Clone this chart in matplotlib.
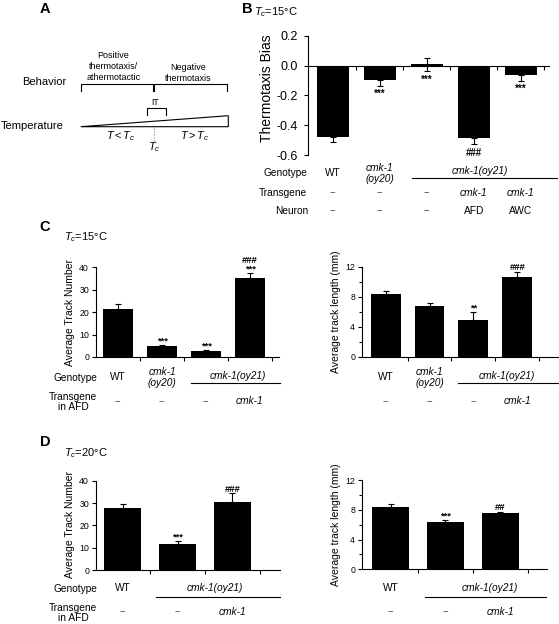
import matplotlib
matplotlib.use('Agg')
import numpy as np
import matplotlib.pyplot as plt
from matplotlib import transforms
from matplotlib.patches import Polygon
from matplotlib.ticker import FixedLocator

plt.rcParams['font.family'] = ['Liberation Sans', 'DejaVu Sans']
plt.rcParams['mathtext.fontset'] = 'custom'
plt.rcParams['mathtext.rm'] = 'Liberation Sans'
plt.rcParams['mathtext.it'] = 'Liberation Sans:italic'
plt.rcParams['mathtext.bf'] = 'Liberation Sans:bold'
plt.rcParams['axes.unicode_minus'] = False

# ---------------- data ----------------
# Panel B (Tc = 15 C): thermotaxis bias
b_genotype = ['WT', 'cmk-1\n(oy20)', '', '', '']
b_bias = [-0.48, -0.095, 0.008, -0.483, -0.062]
b_err_low = [0.03, 0.04, 0.048, 0.044, 0.04]
b_err_high = [0.0, 0.0, 0.04, 0.0, 0.0]
b_marks = ['', '***', '***', '###', '***']
b_transgene = ['--', '--', '--', 'cmk-1', 'cmk-1']
b_neuron = ['--', '--', '--', 'AFD', 'AWC']
b_yticks = [0.2, 0.0, -0.2, -0.4, -0.6]
b_yticklabels = ['0.2', '0.0', '-0.2', '-0.4', '-0.6']

# Panel C (Tc = 15 C)
c_genotype = ['WT', 'cmk-1\n(oy20)', '', '']
c_transgene = ['--', '--', '--', 'cmk-1']
c_tracks = [21.5, 4.7, 2.5, 35.4]
c_tracks_err = [2.0, 0.7, 0.5, 2.0]
c_tracks_marks = ['', '***', '***', '###\n***']
c_length = [8.36, 6.76, 4.93, 10.7]
c_length_err = [0.4, 0.48, 1.03, 0.7]
c_length_marks = ['', '', '**', '###']

# Panel D (Tc = 20 C)
d_genotype = ['WT', '', '']
d_transgene = ['--', '--', 'cmk-1']
d_tracks = [27.9, 11.66, 30.3]
d_tracks_err = [1.6, 1.2, 4.0]
d_tracks_marks = ['', '***', '###']
d_length = [8.32, 6.39, 7.52]
d_length_err = [0.4, 0.22, 0.22]
d_length_marks = ['', '***', '##']

track_ticks = [0, 10, 20, 30, 40]
length_ticks = [0, 4, 8, 12]
length_minor = [2, 6, 10]

# ---------------- layout helpers ----------------
W, H = 559, 624
fig = plt.figure(figsize=(W / 100, H / 100), dpi=100)
fig.patch.set_facecolor('white')

ov = fig.add_axes([0, 0, 1, 1], zorder=10)
ov.set_xlim(0, W)
ov.set_ylim(H, 0)
ov.axis('off')

TABLE_FS = 7.3
LW = 0.8


def add_ax(l, t, r, b):
    ax = fig.add_axes([l / W, 1 - b / H, (r - l) / W, (b - t) / H])
    ax.patch.set_alpha(0)
    for s in ('top', 'right'):
        ax.spines[s].set_visible(False)
    for s in ('left', 'bottom'):
        ax.spines[s].set_linewidth(LW)
    return ax


def draw_bars(ax, vals, err_low, err_high, xlim, ylim, tick_fs):
    x = np.arange(len(vals))
    ax.bar(x, vals, width=0.68, color='black', zorder=2)
    ax.errorbar(x, vals, yerr=[err_low, err_high], fmt='none', ecolor='black',
                elinewidth=LW, capsize=2, capthick=LW, zorder=3)
    ax.set_xlim(*xlim)
    ax.set_ylim(*ylim)
    ax.set_xticks(x + 0.5)
    ax.tick_params(axis='x', length=3, width=LW, labelbottom=False, direction='out')
    ax.tick_params(axis='y', length=3, width=LW, labelsize=tick_fs, pad=2, direction='out')
    return x


def marks_above(ax, vals, errs, marks, fs=6.8):
    for i, (v, e, m) in enumerate(zip(vals, errs, marks)):
        if not m:
            continue
        for k, line in enumerate(reversed(m.split('\n'))):
            ax.annotate(line, xy=(i, v + e), xytext=(0, 1.2 + k * 6.2),
                        textcoords='offset points', ha='center', va='baseline',
                        fontsize=fs, fontweight='bold', annotation_clip=False)


def col_text(ax, x, ypx, s, italic=False, fs=TABLE_FS, **kw):
    tr = transforms.blended_transform_factory(ax.transData, ov.transData)
    if s == '--':
        ov.text(x, ypx, s, transform=tr, ha='center', va='center', fontsize=6.6,
                family='DejaVu Sans', color='#444444', **kw)
        return
    ov.text(x, ypx, s, transform=tr, ha='center', va='center', fontsize=fs,
            style='italic' if italic else 'normal', color='black', **kw)


def group_line(ax, x0, x1, ypx):
    tr = transforms.blended_transform_factory(ax.transData, ov.transData)
    ov.plot([x0, x1], [ypx, ypx], transform=tr, color='black', lw=LW, clip_on=False)


# ---------------- Panel A (schematic) ----------------
ov.text(45, 9, 'A', fontsize=10.5, fontweight='bold', ha='center', va='center')
ov.text(22, 82, 'Behavior', fontsize=8, ha='left', va='center')
ov.text(1, 126, 'Temperature', fontsize=8, ha='left', va='center')


def bracket(x0, x1, ytop, ybot):
    ov.plot([x0, x0, x1, x1], [ybot, ytop, ytop, ybot], color='black', lw=LW,
            solid_joinstyle='miter')


bracket(80.7, 152.7, 84, 91)
bracket(154.3, 226.7, 84, 91)
bracket(146.7, 165.7, 108.3, 115)
ov.text(113.3, 66.3, 'Positive\nthermotaxis/\nathermotactic', fontsize=6.5,
        ha='center', va='center', linespacing=1.25)
ov.text(188.5, 73, 'Negative\nthermotaxis', fontsize=6.5, ha='center',
        va='center', linespacing=1.2)
ov.text(155.3, 102.3, 'IT', fontsize=6.3, ha='center', va='center')
ov.add_patch(Polygon([[80.7, 126.7], [228.3, 115.7], [228.3, 126.7]], closed=True,
                     fill=False, lw=LW, ec='black', joinstyle='miter'))
ov.plot([154.3, 154.3], [128, 141], color='gray', lw=LW, ls=':')
ov.text(121, 136, r'$T < T_c$', fontsize=8, ha='center', va='center')
ov.text(195, 136, r'$T > T_c$', fontsize=8, ha='center', va='center')
ov.text(154.3, 147, r'$T_c$', fontsize=8, ha='center', va='center')

# ---------------- Panel B ----------------
ov.text(247, 9, 'B', fontsize=10.5, fontweight='bold', ha='center', va='center')
ov.text(254, 12.5, r'$T_c$=15°C', fontsize=8, ha='left', va='center')

ax_b = add_ax(308, 35.7, 549, 155)
xb = draw_bars(ax_b, b_bias, b_err_low, b_err_high, (-0.53, 4.6), (-0.6, 0.2), 9)
ax_b.spines['bottom'].set_position(('data', 0))
ax_b.set_yticks(b_yticks)
ax_b.set_yticklabels(b_yticklabels)
ax_b.tick_params(axis='y', pad=4)
ax_b.set_ylabel('Thermotaxis Bias', fontsize=10)
ax_b.yaxis.set_label_coords(274, 88, transform=ov.transData)
for i, (v, e, m) in enumerate(zip(b_bias, b_err_low, b_marks)):
    if m:
        ax_b.annotate(m, xy=(i, v - e), xytext=(0, -2.5), textcoords='offset points',
                      ha='center', va='top', fontsize=7, fontweight='bold',
                      annotation_clip=False)

ov.text(307, 173, 'Genotype', fontsize=TABLE_FS, ha='right', va='center')
ov.text(307.5, 193, 'Transgene', fontsize=TABLE_FS, ha='right', va='center')
ov.text(308, 211, 'Neuron', fontsize=TABLE_FS, ha='right', va='center')
for i, s in enumerate(b_genotype):
    if s:
        col_text(ax_b, i, 173.3, s, italic=(s != 'WT'), linespacing=1.15)
col_text(ax_b, 3.13, 171, 'cmk-1(oy21)', italic=True)
group_line(ax_b, 1.68, 4.77, 178.3)
for i, s in enumerate(b_transgene):
    col_text(ax_b, i, 193, s, italic=(s != '--'))
for i, s in enumerate(b_neuron):
    col_text(ax_b, i, 211, s)

# ---------------- Panel C ----------------
ov.text(45, 227, 'C', fontsize=10.5, fontweight='bold', ha='center', va='center')
ov.text(64, 237, r'$T_c$=15°C', fontsize=8, ha='left', va='center')

ax_c1 = add_ax(96, 267.5, 279, 357)
draw_bars(ax_c1, c_tracks, [0] * 4, c_tracks_err, (-0.5, 3.66), (0, 40), 6.3)
ax_c1.set_yticks(track_ticks)
ax_c1.set_ylabel('Average Track Number', fontsize=7.5)
ax_c1.yaxis.set_label_coords(75, 312, transform=ov.transData)
marks_above(ax_c1, c_tracks, c_tracks_err, c_tracks_marks)

ax_c2 = add_ax(362, 267, 558, 357)
draw_bars(ax_c2, c_length, [0] * 4, c_length_err, (-0.54, 3.93), (0, 12), 6.3)
ax_c2.set_yticks(length_ticks)
ax_c2.yaxis.set_minor_locator(FixedLocator(length_minor))
ax_c2.tick_params(axis='y', which='minor', length=2.5, width=LW)
ax_c2.set_ylabel('Average track length (mm)', fontsize=7.5)
ax_c2.yaxis.set_label_coords(341, 312, transform=ov.transData)
marks_above(ax_c2, c_length, c_length_err, c_length_marks)

ov.text(97.7, 378, 'Genotype', fontsize=TABLE_FS, ha='right', va='center')
ov.text(73, 402, 'Transgene\nin AFD', fontsize=TABLE_FS, ha='center', va='center',
        linespacing=1.1)
for ax, gx, lx0, lx1 in ((ax_c1, 2.73, 1.65, 3.68), (ax_c2, 2.77, 1.66, 3.93)):
    for i, s in enumerate(c_genotype):
        if s:
            col_text(ax, i, 377.5, s, italic=(s != 'WT'), linespacing=1.15)
    col_text(ax, gx, 376, 'cmk-1(oy21)', italic=True)
    group_line(ax, lx0, lx1, 383.3)
    for i, s in enumerate(c_transgene):
        col_text(ax, i, 401.5, s, italic=(s != '--'))

# ---------------- Panel D ----------------
ov.text(45, 442, 'D', fontsize=10.5, fontweight='bold', ha='center', va='center')
ov.text(64, 452.7, r'$T_c$=20°C', fontsize=8, ha='left', va='center')

ax_d1 = add_ax(96, 480.7, 280, 570)
draw_bars(ax_d1, d_tracks, [0] * 3, d_tracks_err, (-0.49, 2.87), (0, 40), 6.3)
ax_d1.set_yticks(track_ticks)
ax_d1.set_ylabel('Average Track Number', fontsize=7.5)
ax_d1.yaxis.set_label_coords(75, 525, transform=ov.transData)
marks_above(ax_d1, d_tracks, d_tracks_err, d_tracks_marks)

ax_d2 = add_ax(362, 480, 547, 569.3)
draw_bars(ax_d2, d_length, [0] * 3, d_length_err, (-0.52, 2.85), (0, 12), 6.3)
ax_d2.set_yticks(length_ticks)
ax_d2.yaxis.set_minor_locator(FixedLocator(length_minor))
ax_d2.tick_params(axis='y', which='minor', length=2.5, width=LW)
ax_d2.set_ylabel('Average track length (mm)', fontsize=7.5)
ax_d2.yaxis.set_label_coords(341, 525, transform=ov.transData)
marks_above(ax_d2, d_length, d_length_err, d_length_marks)

ov.text(97.7, 589, 'Genotype', fontsize=TABLE_FS, ha='right', va='center')
ov.text(73, 613, 'Transgene\nin AFD', fontsize=TABLE_FS, ha='center', va='center',
        linespacing=1.1)
for ax, gx, lx0, lx1 in ((ax_d1, 1.68, 0.6, 2.87), (ax_d2, 1.81, 0.63, 2.84)):
    for i, s in enumerate(d_genotype):
        if s:
            col_text(ax, i, 588, s)
    col_text(ax, gx, 587.7, 'cmk-1(oy21)', italic=True)
    group_line(ax, lx0, lx1, 597.3)
    for i, s in enumerate(d_transgene):
        col_text(ax, i, 611.7, s, italic=(s != '--'))

fig.savefig('out.png', dpi=100, facecolor='white')
